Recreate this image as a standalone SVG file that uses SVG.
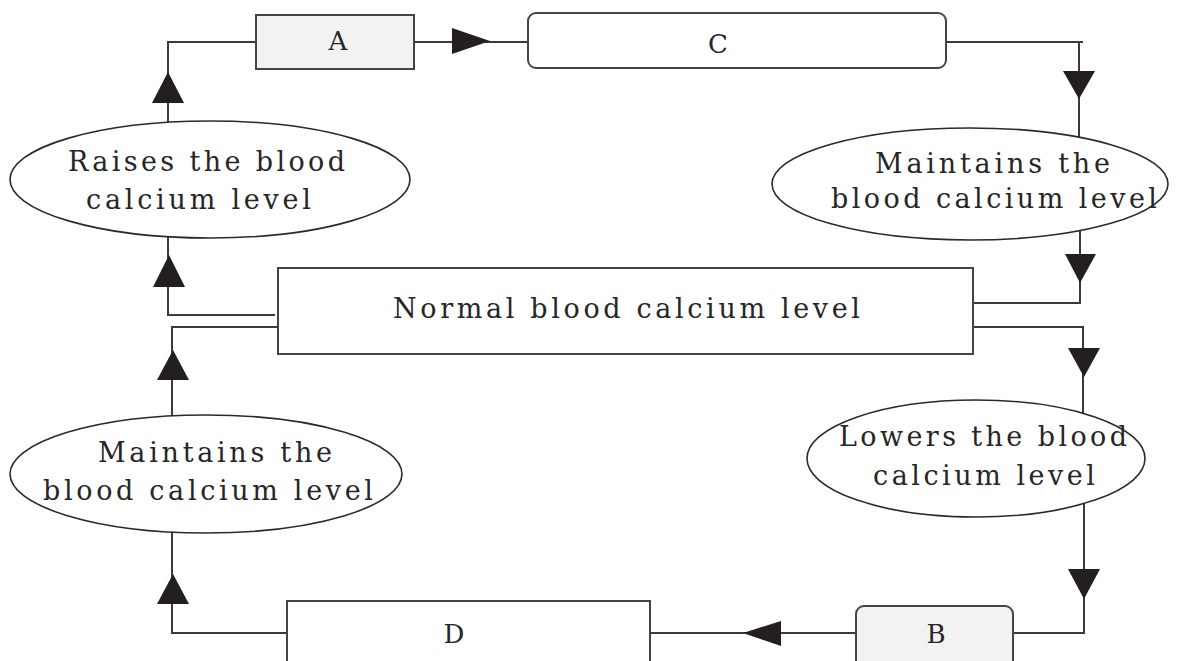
<svg xmlns="http://www.w3.org/2000/svg" width="1182" height="661" viewBox="0 0 1182 661">
<style>
.ln{fill:none;stroke:#3a3a3a;stroke-width:2}
.ar{fill:#231f20;stroke:none}
.box{stroke:#444;stroke-width:2}
.ell{fill:#fff;stroke:#2a2a2a;stroke-width:1.6}
text{font-family:"DejaVu Serif","Liberation Serif",serif;font-size:27px;fill:#262626;text-anchor:middle}
.lbl{font-size:26px}
</style>
<rect width="1182" height="661" fill="#fff"/>
<g id="connectors">
<polyline class="ln" points="168,150 168,42 256,42"/>
<polygon class="ar" points="168,72 184,103 152,103"/>
<line class="ln" x1="414" y1="42" x2="528" y2="42"/>
<polygon class="ar" points="490,41 452,28 452,54"/>
<polyline class="ln" points="946,42 1083,42"/>
<line class="ln" x1="1079" y1="42" x2="1079" y2="160"/>
<polygon class="ar" points="1079,99 1063,71 1095,71"/>
<polyline class="ln" points="1080,210 1080,303 971,303"/>
<polygon class="ar" points="1080,283 1065,254 1096,254"/>
<polyline class="ln" points="973,327 1083,327 1083,430"/>
<polygon class="ar" points="1084,377 1068,348 1100,348"/>
<polyline class="ln" points="1084,490 1084,633 1013,633"/>
<polygon class="ar" points="1084,599 1068,569 1100,569"/>
<line class="ln" x1="856" y1="633" x2="650" y2="633"/>
<polygon class="ar" points="743,633 781,621 781,646"/>
<polyline class="ln" points="172,500 172,633 287,633"/>
<polygon class="ar" points="173,574 189,604 157,604"/>
<polyline class="ln" points="172,440 172,327 278,327"/>
<polygon class="ar" points="173,350 189,380 157,380"/>
<polyline class="ln" points="275,315 168,315 168,210"/>
<polygon class="ar" points="169,255 185,287 153,287"/>
</g>
<g id="node-a">
<rect class="box" x="256" y="15" width="158" height="54" fill="#f2f2f2"/>
<text class="lbl" x="338" y="50">A</text>
</g>
<g id="node-c">
<rect class="box" x="528" y="13" width="418" height="55" rx="8" fill="#fff"/>
<text class="lbl" x="718" y="53">C</text>
</g>
<g id="node-raises">
<ellipse class="ell" cx="210" cy="179.5" rx="200" ry="58.5"/>
<text x="206.5" y="171" textLength="277" lengthAdjust="spacing">Raises the blood</text>
<text x="198.5" y="209" textLength="225" lengthAdjust="spacing">calcium level</text>
</g>
<g id="node-maintains-right">
<ellipse class="ell" cx="970" cy="184" rx="198" ry="56"/>
<text x="992.5" y="173" textLength="235" lengthAdjust="spacing">Maintains the</text>
<text x="994" y="208" textLength="326" lengthAdjust="spacing">blood calcium level</text>
</g>
<g id="node-normal">
<rect class="box" x="278" y="268" width="695" height="86" fill="#fff"/>
<text x="626.5" y="318" textLength="467" lengthAdjust="spacing">Normal blood calcium level</text>
</g>
<g id="node-lowers">
<ellipse class="ell" cx="976" cy="458.5" rx="169" ry="58.5"/>
<text x="983" y="446" textLength="288" lengthAdjust="spacing">Lowers the blood</text>
<text x="984" y="485" textLength="222" lengthAdjust="spacing">calcium level</text>
</g>
<g id="node-maintains-left">
<ellipse class="ell" cx="206" cy="474" rx="196" ry="59"/>
<text x="215" y="462" textLength="234" lengthAdjust="spacing">Maintains the</text>
<text x="208" y="500" textLength="330" lengthAdjust="spacing">blood calcium level</text>
</g>
<g id="node-b">
<rect class="box" x="856" y="606" width="157" height="70" rx="8" fill="#f2f2f2"/>
<text class="lbl" x="936" y="643">B</text>
</g>
<g id="node-d">
<rect class="box" x="287" y="601" width="363" height="75" fill="#fff"/>
<text class="lbl" x="454" y="643">D</text>
</g>
</svg>
